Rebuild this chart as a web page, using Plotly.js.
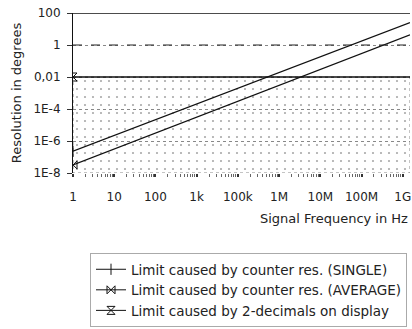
<!DOCTYPE html>
<html>
<head>
<meta charset="utf-8">
<script src="https://cdn.plot.ly/plotly-3.0.1.min.js"></script>
<style>html,body{margin:0;padding:0;background:#fff;}#chart{width:412px;height:329px;}</style>
</head>
<body>
<div id="chart"></div>
<script>
// Frequency (Hz) at the left edge and right edge of the lines
var freq = [1, 1.5e8];
// Limit caused by counter resolution, SINGLE (degrees)
var single = [2.3e-7, 25];
// Limit caused by counter resolution, AVERAGE (degrees)
var average = [3.2e-8, 4.3];
// Limit caused by 2 decimals on display (degrees)
var display = [0.01, 0.01];
// Shaded region below the display limit
var shadeX = [1, 1.5e8, 1.5e8, 1, 1];
var shadeY = [0.01, 0.01, 1e-8, 1e-8, 0.01];

var xTickVals = [1, 10, 100, 1e3, 1e4, 1e5, 1e6, 1e7, 1e8];
var xTickText = ['1', '10', '100', '1k', '100k', '1M', '10M', '100M', '1G'];
var yTickVals = [100, 1, 0.01, 1e-4, 1e-6, 1e-8];
var yTickText = ['100', '1', '0,01', '1E-4', '1E-6', '1E-8'];

var names = [
  'Limit caused by counter res. (SINGLE)',
  'Limit caused by counter res. (AVERAGE)',
  'Limit caused by 2-decimals on display'
];

var FONT = 'DejaVu Sans, Verdana, sans-serif';
var TXT = '#222';

var traces = [
  {x: shadeX, y: shadeY, mode: 'lines', fill: 'toself', showlegend: false, hoverinfo: 'skip',
   line: {color: '#888', width: 1, dash: 'dot'}, fillcolor: 'rgba(0,0,0,0)',
   fillpattern: {shape: '.', size: 8, solidity: 0.06, fgcolor: '#aaa', bgcolor: 'rgba(255,255,255,0)'}},
  {x: freq, y: single, mode: 'lines', legendgroup: 's', showlegend: false, line: {color: '#111', width: 1.3}},
  {x: freq, y: average, mode: 'lines', legendgroup: 'a', showlegend: false, line: {color: '#111', width: 1.3}},
  {x: freq, y: display, mode: 'lines', legendgroup: 'd', showlegend: false, line: {color: '#111', width: 1.3}},
  {x: [freq[0]], y: [single[0]], name: names[0], mode: 'lines+markers', legendgroup: 's',
   line: {color: '#111', width: 1}, marker: {symbol: 'line-ns-open', size: 8, color: '#111', line: {width: 1, color: '#111'}}},
  {x: [freq[0]], y: [average[0]], name: names[1], mode: 'lines+markers', legendgroup: 'a',
   line: {color: '#111', width: 1}, marker: {symbol: 'bowtie-open', size: 8, color: '#111', line: {width: 1, color: '#111'}}},
  {x: [freq[0]], y: [display[0]], name: names[2], mode: 'lines+markers', legendgroup: 'd',
   line: {color: '#111', width: 1}, marker: {symbol: 'hourglass-open', size: 8, color: '#111', line: {width: 1, color: '#111'}}}
];

var layout = {
  width: 412, height: 329,
  margin: {l: 73, r: 2, t: 13, b: 156},
  paper_bgcolor: '#fff', plot_bgcolor: '#fff',
  font: {family: FONT, size: 12, color: TXT},
  showlegend: true,
  legend: {
    x: (90 - 73) / 337, y: -0.5, xanchor: 'left', yanchor: 'top',
    bordercolor: '#aaa', borderwidth: 1, bgcolor: '#fff',
    font: {family: FONT, size: 13.5, color: TXT},
    tracegroupgap: 0
  },
  xaxis: {
    type: 'log', range: [0, Math.log10(1.5e8)],
    tickmode: 'array', tickvals: xTickVals, ticktext: xTickText,
    ticks: 'outside', ticklen: 3, tickwidth: 2, tickcolor: '#333',
    ticklabelstandoff: 10,
    minor: {ticks: 'outside', ticklen: 3, tickwidth: 1, tickcolor: '#666', dtick: 'D1', showgrid: false},
    showline: false, showgrid: false, zeroline: false,
    tickfont: {family: FONT, size: 12, color: TXT}
  },
  yaxis: {
    type: 'log', range: [-8, 2],
    tickmode: 'array', tickvals: yTickVals, ticktext: yTickText,
    ticks: 'outside', ticklen: 5, tickcolor: '#333',
    ticklabelstandoff: 4,
    showline: true, linecolor: '#111', linewidth: 1,
    showgrid: true, gridcolor: '#888', griddash: 'dot', gridwidth: 1,
    zeroline: false,
    tickfont: {family: FONT, size: 12, color: TXT},
    title: {text: 'Resolution in degrees', font: {family: FONT, size: 13, color: TXT}, standoff: 8}
  },
  annotations: [
    {text: 'Signal Frequency in Hz', xref: 'paper', yref: 'paper', x: 1.0, y: (173 - 218) / 160,
     xanchor: 'right', yanchor: 'middle', showarrow: false, font: {family: FONT, size: 13, color: TXT}}
  ],
  shapes: [
    {type: 'line', xref: 'paper', x0: 0, x1: 1, yref: 'y', y0: yTickVals[0], y1: yTickVals[0], line: {color: '#111', width: 1.5}},
    {type: 'line', xref: 'paper', x0: 0, x1: 1, yref: 'y', y0: yTickVals[1], y1: yTickVals[1], line: {color: '#222', width: 1, dash: 'dash'}}
  ]
};

Plotly.newPlot('chart', traces, layout, {displayModeBar: false, staticPlot: true});
</script>
</body>
</html>
